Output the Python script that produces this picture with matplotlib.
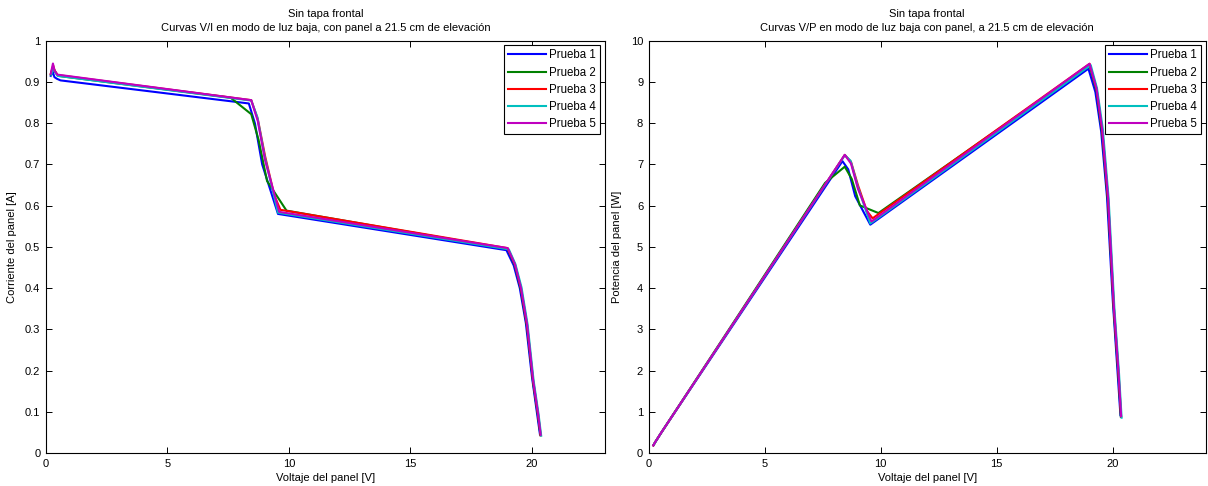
#curvas V/I y V/P del panel, sin tapa frontal, luz baja

#import libraries
import matplotlib
matplotlib.use("Agg")
import numpy as np
import matplotlib.pyplot as plt

plt.rcParams["font.family"] = ["Liberation Sans", "DejaVu Sans"]
plt.rcParams["font.size"] = 8

#datos (voltaje [V], corriente [A])
etiquetas = ["Prueba 1", "Prueba 2", "Prueba 3", "Prueba 4", "Prueba 5"]
colores = ["#0000ff", "#008000", "#ff0000", "#00bfbf", "#bf00bf"]

v1 = [0.20, 0.28, 0.35, 0.45, 0.60, 8.35, 8.60, 8.90, 9.55, 18.95, 19.25, 19.50, 19.75, 20.00, 20.20, 20.33]
i1 = [0.915, 0.925, 0.912, 0.908, 0.904, 0.848, 0.800, 0.700, 0.580, 0.492, 0.455, 0.400, 0.315, 0.185, 0.100, 0.045]

v2 = [0.20, 0.30, 0.38, 0.50, 7.60, 8.45, 8.75, 9.10, 9.90, 19.00, 19.30, 19.55, 19.80, 20.05, 20.25, 20.35]
i2 = [0.918, 0.935, 0.925, 0.915, 0.862, 0.822, 0.760, 0.660, 0.588, 0.495, 0.455, 0.395, 0.305, 0.170, 0.090, 0.043]

v3 = [0.20, 0.30, 0.36, 0.48, 8.45, 8.72, 9.02, 9.40, 9.65, 19.00, 19.30, 19.55, 19.80, 20.05, 20.25, 20.36]
i3 = [0.920, 0.940, 0.928, 0.917, 0.856, 0.810, 0.720, 0.625, 0.590, 0.497, 0.458, 0.400, 0.310, 0.175, 0.095, 0.043]

v4 = [0.22, 0.30, 0.37, 0.48, 8.45, 8.70, 9.00, 9.55, 19.05, 19.32, 19.57, 19.82, 20.07, 20.27, 20.38]
i4 = [0.918, 0.935, 0.925, 0.915, 0.855, 0.815, 0.720, 0.583, 0.494, 0.458, 0.402, 0.312, 0.175, 0.095, 0.042]

v5 = [0.20, 0.29, 0.35, 0.47, 8.45, 8.72, 9.02, 9.60, 19.00, 19.30, 19.55, 19.80, 20.05, 20.25, 20.36]
i5 = [0.920, 0.945, 0.928, 0.918, 0.856, 0.805, 0.710, 0.585, 0.497, 0.458, 0.400, 0.312, 0.176, 0.096, 0.044]

voltajes = [v1, v2, v3, v4, v5]
corrientes = [i1, i2, i3, i4, i5]

#figura
fig = plt.figure(figsize=(12.08, 4.86), dpi=100)
ax1 = fig.add_axes([0.038, 0.068, 0.4627, 0.848])
ax2 = fig.add_axes([0.537, 0.068, 0.461, 0.848])

for v, i, c, lab in zip(voltajes, corrientes, colores, etiquetas):
    v = np.array(v)
    i = np.array(i)
    ax1.plot(v, i, color=c, lw=1.5, label=lab)
    ax2.plot(v, v * i, color=c, lw=1.5, label=lab)

ax1.set_xlim(0, 23)
ax1.set_ylim(0, 1)
ax1.set_xticks([0, 5, 10, 15, 20])
ax1.set_yticks(np.arange(0, 1.01, 0.1))
ax1.set_yticklabels(["0", "0.1", "0.2", "0.3", "0.4", "0.5", "0.6", "0.7", "0.8", "0.9", "1"])
ax1.set_xlabel("Voltaje del panel [V]", labelpad=3)
ax1.set_ylabel("Corriente del panel [A]", labelpad=6)
ax1.set_title("Sin tapa frontal\nCurvas V/I en modo de luz baja, con panel a 21.5 cm de elevación",
              fontsize=8, pad=7, linespacing=1.5)

ax2.set_xlim(0, 24)
ax2.set_ylim(0, 10)
ax2.set_xticks([0, 5, 10, 15, 20])
ax2.set_yticks(range(0, 11))
ax2.set_xlabel("Voltaje del panel [V]", labelpad=3)
ax2.set_ylabel("Potencia del panel [W]", labelpad=6)
ax2.set_title("Sin tapa frontal\nCurvas V/P en modo de luz baja con panel, a 21.5 cm de elevación",
              fontsize=8, pad=7, linespacing=1.5)

for ax in (ax1, ax2):
    ax.tick_params(direction="in", top=True, right=True, length=4, width=0.7, pad=4)
    for s in ax.spines.values():
        s.set_linewidth(0.8)
    leg = ax.legend(loc="upper right", fontsize=8.3, handlelength=3.3, fancybox=False,
                    framealpha=1, borderpad=0.35, labelspacing=0.45, handletextpad=0.3,
                    borderaxespad=0.4)
    leg.get_frame().set_edgecolor("black")
    leg.get_frame().set_linewidth(0.8)

fig.savefig("out.png", dpi=100)
